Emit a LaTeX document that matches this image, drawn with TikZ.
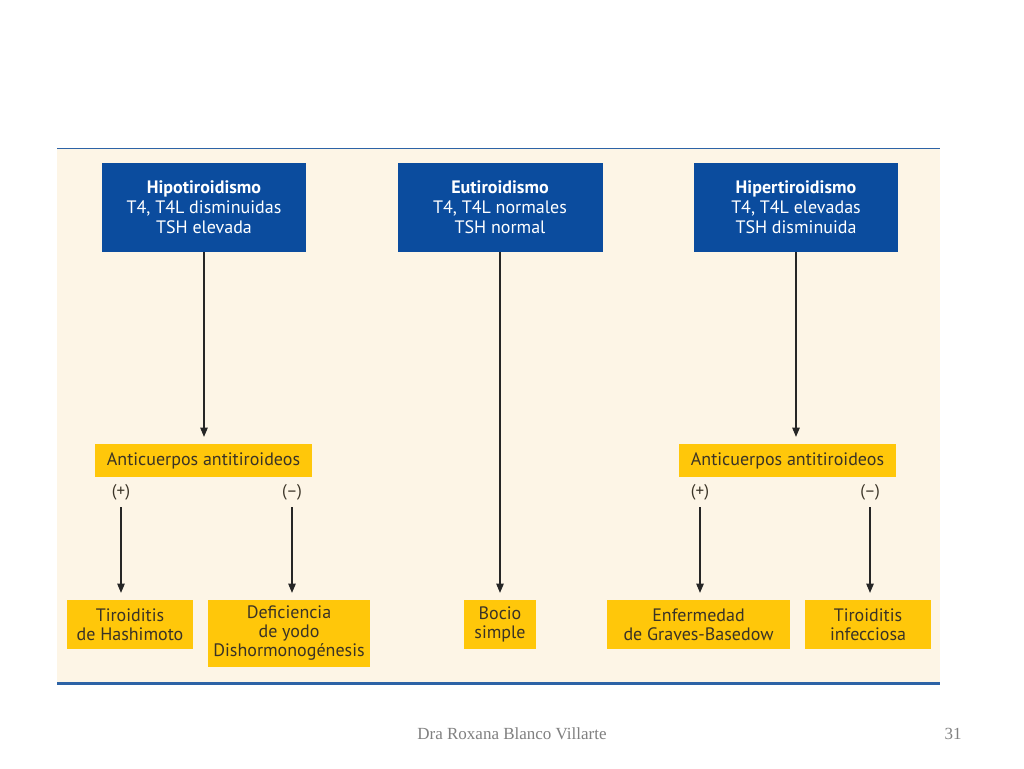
\documentclass[tikz,border=0pt]{standalone}
\usepackage{fontspec}
\setmainfont{PT Sans}
\newfontfamily\footfont{Liberation Serif}
\usepackage{xcolor}
\definecolor{panelcream}{HTML}{FDF5E6}
\definecolor{boxblue}{HTML}{0B4C9E}
\definecolor{boxyellow}{HTML}{FFC70A}
\definecolor{lineblue}{HTML}{2D63A6}
\definecolor{inkdark}{HTML}{3A3326}
\usetikzlibrary{positioning, arrows}
\tikzset{
	stagebox/.style={fill=boxblue, text=white, align=center, inner sep=0pt,
	minimum height=89pt, font=\fontsize{18}{20}\selectfont},
	antibox/.style={fill=boxyellow, text=inkdark, align=center, inner sep=0pt,
	minimum width=217pt, minimum height=33pt, font=\fontsize{18}{19}\selectfont},
	causebox/.style={fill=boxyellow, text=inkdark, align=center, inner sep=0pt,
	minimum height=49pt, font=\fontsize{18}{19}\selectfont}
}
\tikzset{
	flow/.style={draw=black!85, line width=1.1pt, -triangle 45, shorten >=7pt},
	signlabel/.style={text=inkdark, inner sep=0pt, font=\fontsize{17}{19}\selectfont}
}
\begin{document}
\begin{tikzpicture}[x=1pt, y=-1pt]
		\useasboundingbox (0, 0) rectangle (1024, 768);
		\fill[white] (0, 0) rectangle (1024, 768);

		% panel
		\fill[panelcream] (57, 148) rectangle (940, 683);
		\draw[lineblue, line width=1pt] (57, 148) -- (940, 148);
		\draw[lineblue, line width=3pt] (57, 683) -- (940, 683);

		% thyroid function
		\node[stagebox, minimum width=204pt] (hipo) at (204, 207.5) {\textbf{Hipotiroidismo}\\T4, T4L disminuidas\\TSH elevada};
		\node[stagebox, minimum width=205pt] (eu) at (500, 207.5) {\textbf{Eutiroidismo}\\T4, T4L normales\\TSH normal};
		\node[stagebox, minimum width=204pt] (hiper) at (796, 207.5) {\textbf{Hipertiroidismo}\\T4, T4L elevadas\\TSH disminuida};

		% antibodies
		\node[antibox] (antihipo) at (203.5, 460.5) {Anticuerpos antitiroideos};
		\node[antibox] (antihiper) at (787.5, 460.5) {Anticuerpos antitiroideos};

		\node[signlabel] (poshipo) at (121, 492) {(+)};
		\node[signlabel] (neghipo) at (292, 492) {(--)};
		\node[signlabel] (poshiper) at (700, 492) {(+)};
		\node[signlabel] (neghiper) at (870, 492) {(--)};

		% causes
		\node[causebox, minimum width=126pt] (hashimoto) at (130, 624.5) {Tiroiditis\\de Hashimoto};
		\node[causebox, minimum width=162pt, minimum height=67pt] (yodo) at (289, 633.5) {Deficiencia\\de yodo\\Dishormonogénesis};
		\node[causebox, minimum width=72pt] (bocio) at (500, 624.5) {Bocio\\simple};
		\node[causebox, minimum width=183pt] (graves) at (698.5, 624.5) {Enfermedad\\de Graves-Basedow};
		\node[causebox, minimum width=126pt] (infecciosa) at (868, 624.5) {Tiroiditis\\infecciosa};

		% connectors
		\draw[flow] (hipo.south) -- (hipo.south |- antihipo.north);
		\draw[flow] (hiper.south) -- (hiper.south |- antihiper.north);
		\draw[flow] (eu.south) -- (bocio.north);
		\draw[flow, shorten <=7pt] (poshipo.south) -- (poshipo.south |- hashimoto.north);
		\draw[flow, shorten <=7pt] (neghipo.south) -- (neghipo.south |- yodo.north);
		\draw[flow, shorten <=7pt] (poshiper.south) -- (poshiper.south |- graves.north);
		\draw[flow, shorten <=7pt] (neghiper.south) -- (neghiper.south |- infecciosa.north);

		% footer
		\node[text=black!50, font=\footfont\fontsize{17}{19}\selectfont] (autora) at (512, 734) {Dra Roxana Blanco Villarte};
		\node[text=black!50, font=\footfont\fontsize{17}{19}\selectfont] (pagina) at (953, 734) {31};

	\end{tikzpicture}
\end{document}
